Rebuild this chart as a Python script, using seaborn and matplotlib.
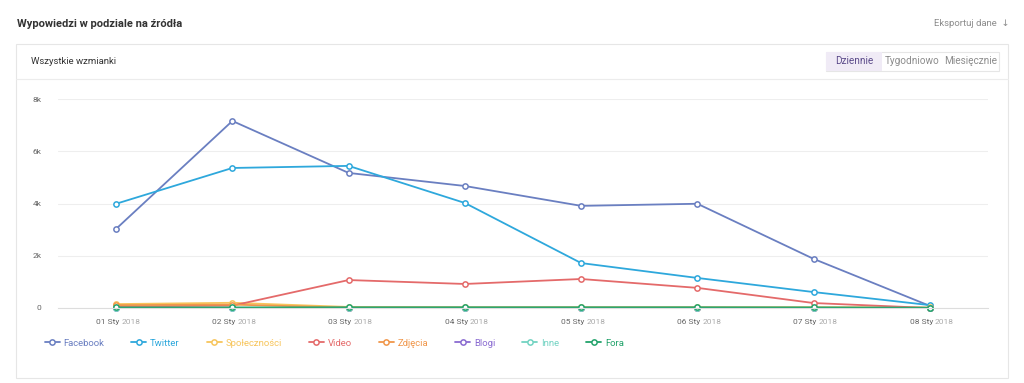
import pandas as pd
import seaborn as sns
import matplotlib.pyplot as plt
from matplotlib.lines import Line2D
from matplotlib.patches import Rectangle

# data
days = ['01 Sty', '02 Sty', '03 Sty', '04 Sty', '05 Sty', '06 Sty', '07 Sty', '08 Sty']
year = '2018'
sources = ['Facebook', 'Twitter', 'Społeczności', 'Video', 'Zdjęcia', 'Blogi', 'Inne', 'Fora']
facebook = [3030, 7160, 5170, 4670, 3910, 3990, 1880, 80]
twitter = [3990, 5360, 5440, 4020, 1720, 1150, 610, 110]
spolecznosci = [150, 200, 40, 30, 30, 30, 30, 20]
video = [60, 90, 1070, 920, 1110, 770, 190, 0]
zdjecia = [110, 130, 15, 15, 15, 15, 10, 5]
blogi = [5, 5, 5, 5, 5, 5, 5, 5]
inne = [10, 10, 10, 10, 10, 10, 10, 5]
fora = [20, 20, 25, 25, 25, 25, 20, 10]
colors = ['#6a7fc1', '#2ea8dc', '#f7c55c', '#e46a6a', '#f0964a', '#8a6bd1', '#72d3c2', '#22a36b']
yticks = [0, 2000, 4000, 6000, 8000]
ytick_labels = ['0', '2k', '4k', '6k', '8k']

values = [facebook, twitter, spolecznosci, video, zdjecia, blogi, inne, fora]
rows = []
for name, vals in zip(sources, values):
    for i, v in enumerate(vals):
        rows.append({'day': i, 'source': name, 'count': v})
df = pd.DataFrame(rows)

sns.set_style('white')
plt.rcParams['font.family'] = ['Roboto', 'DejaVu Sans']

fig = plt.figure(figsize=(10.24, 3.83), dpi=100)
W, H = 1024, 383

def fx(px):
    return px / W

def fy(py):
    return 1 - py / H

# card frame and header
fig.patches.append(Rectangle((fx(16), fy(378)), fx(992), (378 - 44) / H, transform=fig.transFigure,
                             facecolor='white', edgecolor='#e6e6e6', lw=0.8, zorder=-2))
fig.lines.append(Line2D([fx(16), fx(1008)], [fy(79), fy(79)], transform=fig.transFigure,
                        color='#ececec', lw=0.8))
fig.text(fx(17), fy(24), 'Wypowiedzi w podziale na źródła', fontsize=8, fontweight='bold',
         color='#333333', va='center', ha='left')
fig.text(fx(1010), fy(24), 'Eksportuj dane  ↓', fontsize=6.8, color='#8c8c8c', va='center', ha='right')
fig.text(fx(31), fy(62), 'Wszystkie wzmianki', fontsize=6.8, color='#333333', va='center', ha='left')

# period buttons
fig.patches.append(Rectangle((fx(826), fy(71)), fx(173), 19 / H, transform=fig.transFigure,
                             facecolor='white', edgecolor='#e6e6e6', lw=0.8, zorder=-1))
fig.patches.append(Rectangle((fx(826), fy(71)), fx(56), 19 / H, transform=fig.transFigure,
                             facecolor='#f0ebf6', edgecolor='none', zorder=-1))
fig.text(fx(854), fy(61.5), 'Dziennie', fontsize=7.2, color='#5b4b8a', va='center', ha='center')
fig.text(fx(912), fy(61.5), 'Tygodniowo', fontsize=7.2, color='#8c8c8c', va='center', ha='center')
fig.text(fx(971), fy(61.5), 'Miesięcznie', fontsize=7.2, color='#8c8c8c', va='center', ha='center')

ax = fig.add_axes([fx(58), fy(308), fx(988 - 58), (308 - 99) / H])
ax.patch.set_alpha(0)
sns.lineplot(data=df, x='day', y='count', hue='source', hue_order=sources, palette=colors,
             marker='o', markersize=3.8, markerfacecolor='white', markeredgewidth=1.1,
             linewidth=1.3, legend=False, ax=ax)
# outline markers in the line colour (seaborn edges them white)
for line in ax.lines:
    line.set_markeredgecolor(line.get_color())
    line.set_clip_on(False)

ax.set_xlim(-0.5, 7.5)
ax.set_ylim(0, 8000)
ax.set_yticks(yticks)
ax.set_yticklabels(ytick_labels)
ax.set_xticks(range(len(days)))
ax.set_xticklabels([])
ax.set_xticks([i + 0.5 for i in range(-1, len(days))], minor=True)
ax.tick_params(axis='x', which='major', length=0)
ax.tick_params(axis='x', which='minor', length=5, color='#dddddd', direction='out')
ax.tick_params(axis='y', length=0, pad=12, labelsize=6, labelcolor='#666666')

# two-tone date labels: day in darker grey, year in lighter grey
for i, d in enumerate(days):
    ax.annotate(d, xy=(i, 0), xycoords=('data', 'axes fraction'), xytext=(2.2, -11.5),
                textcoords='offset points', ha='right', va='baseline', fontsize=6, color='#666666')
    ax.annotate(year, xy=(i, 0), xycoords=('data', 'axes fraction'), xytext=(3.6, -11.5),
                textcoords='offset points', ha='left', va='baseline', fontsize=6, color='#aaaaaa')

ax.yaxis.grid(True, color='#eeeeee', lw=0.8)
ax.set_axisbelow(True)
for s in ['top', 'right', 'left']:
    ax.spines[s].set_visible(False)
ax.spines['bottom'].set_color('#dddddd')
ax.set_xlabel('')
ax.set_ylabel('')

handles = [Line2D([], [], color=c, marker='o', markersize=3.8, markerfacecolor='white',
                  markeredgecolor=c, markeredgewidth=1.1, lw=1.3) for c in colors]
leg = fig.legend(handles, sources, loc='center left', bbox_to_anchor=(fx(36), fy(343)),
                 ncol=len(sources), frameon=False, fontsize=6.8, handlelength=1.6,
                 handletextpad=0.4, columnspacing=2.85)
for t, c in zip(leg.get_texts(), colors):
    t.set_color(c)

fig.savefig('out.png', dpi=100, facecolor='white')
